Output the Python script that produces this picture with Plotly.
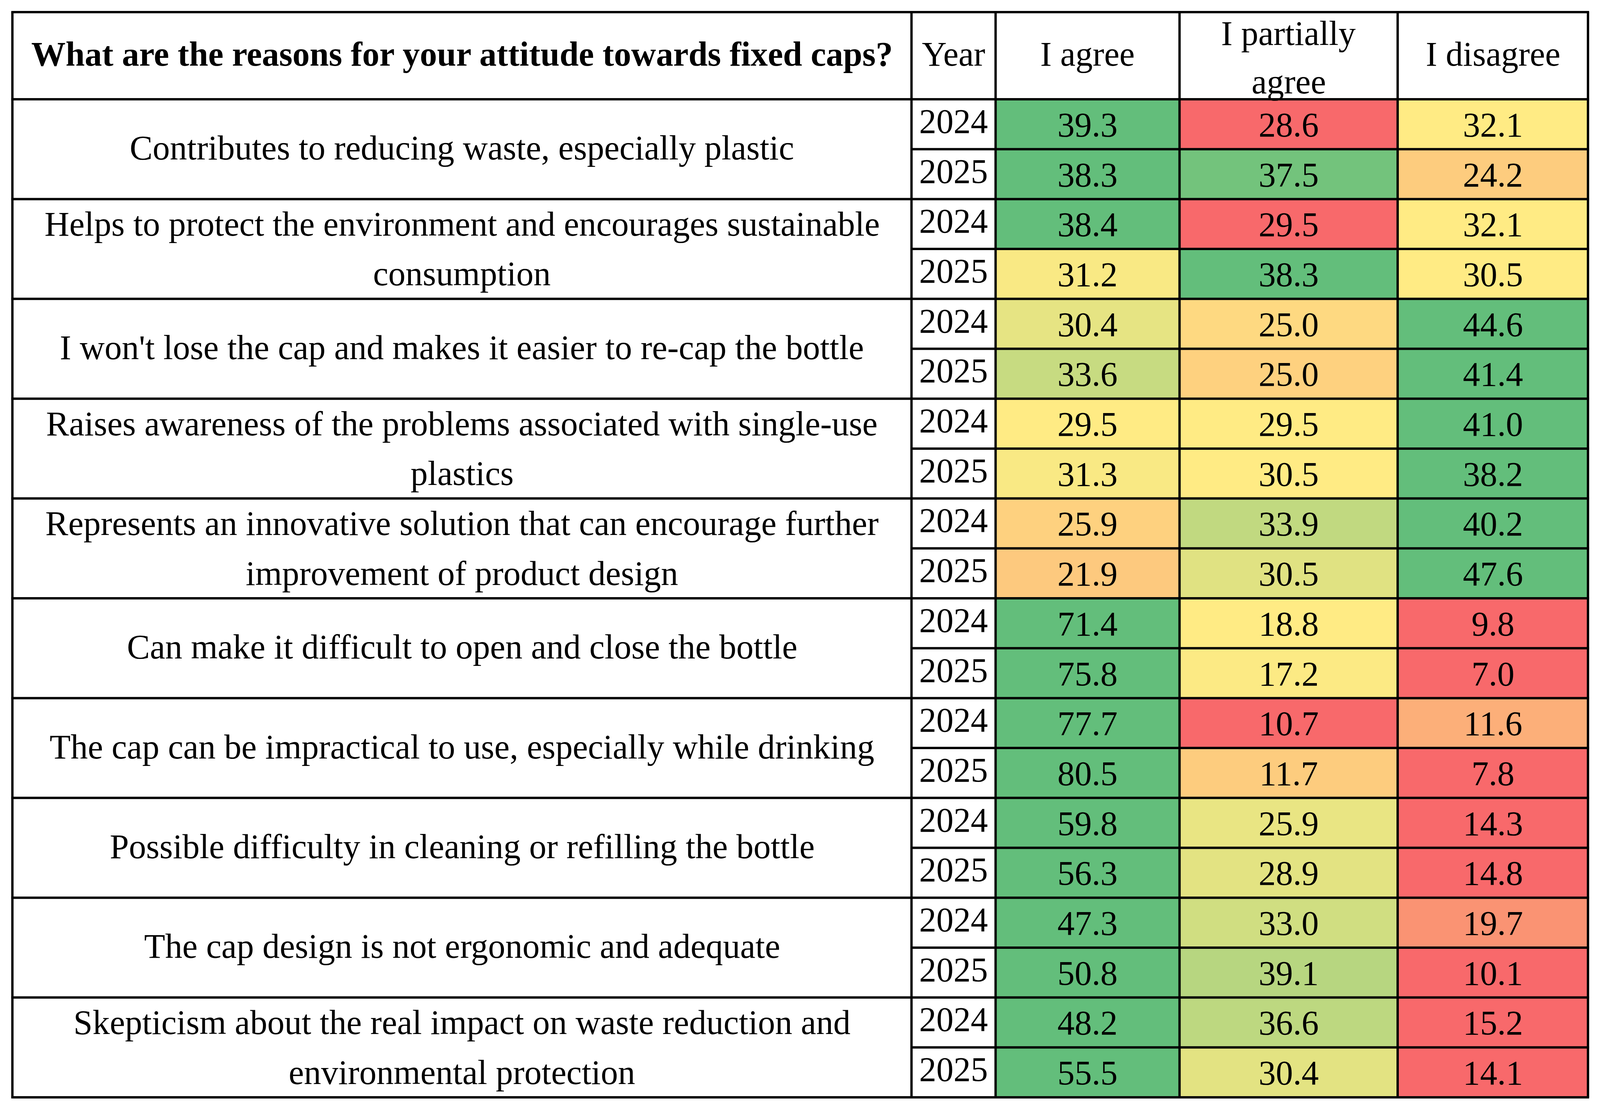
import plotly.graph_objects as go

# table content
header_question = "What are the reasons for your attitude towards fixed caps?"
header_year = "Year"
answer_cols = [["I agree"], ["I partially", "agree"], ["I disagree"]]
years = ["2024", "2025"]

questions = [
    ["Contributes to reducing waste, especially plastic"],
    ["Helps to protect the environment and encourages sustainable", "consumption"],
    ["I won't lose the cap and makes it easier to re-cap the bottle"],
    ["Raises awareness of the problems associated with single-use", "plastics"],
    ["Represents an innovative solution that can encourage further", "improvement of product design"],
    ["Can make it difficult to open and close the bottle"],
    ["The cap can be impractical to use, especially while drinking"],
    ["Possible difficulty in cleaning or refilling the bottle"],
    ["The cap design is not ergonomic and adequate"],
    ["Skepticism about the real impact on waste reduction and", "environmental protection"],
]

# one value per row: question1-2024, question1-2025, question2-2024, ...
agree = [39.3, 38.3, 38.4, 31.2, 30.4, 33.6, 29.5, 31.3, 25.9, 21.9,
         71.4, 75.8, 77.7, 80.5, 59.8, 56.3, 47.3, 50.8, 48.2, 55.5]
partial = [28.6, 37.5, 29.5, 38.3, 25.0, 25.0, 29.5, 30.5, 33.9, 30.5,
           18.8, 17.2, 10.7, 11.7, 25.9, 28.9, 33.0, 39.1, 36.6, 30.4]
disagree = [32.1, 24.2, 32.1, 30.5, 44.6, 41.4, 41.0, 38.2, 40.2, 47.6,
            9.8, 7.0, 11.6, 7.8, 14.3, 14.8, 19.7, 10.1, 15.2, 14.1]

# conditional-format position of each cell on the red-yellow-green scale (0 red, 0.5 yellow, 1 green)
shade_agree = [1, 1, 1, 0.52, 0.58, 0.68, 0.5, 0.52, 0.40, 0.37,
               1, 1, 1, 1, 1, 1, 1, 1, 1, 1]
shade_partial = [0, 0.95, 0, 1, 0.43, 0.40, 0.5, 0.5, 0.70, 0.60,
                 0.5, 0.51, 0, 0.38, 0.57, 0.59, 0.65, 0.73, 0.71, 0.59]
shade_disagree = [0.5, 0.38, 0.5, 0.5, 1, 1, 1, 1, 1, 1,
                  0, 0, 0.27, 0, 0, 0, 0.16, 0, 0, 0]

# geometry, in pixels of the 4262x2843 picture (axes span the whole page)
W, H = 4262, 2843
COL_X = [33, 2428, 2652, 3142, 3723, 4230]
TOP = 31
HEAD_BOTTOM = 254
ROW_H = 127.7
FONT = "Liberation Serif"
FS = 88
LW = 6

n_rows = len(agree)
row_y = [HEAD_BOTTOM + i * ROW_H for i in range(n_rows + 1)]
bottom = row_y[-1]

z = [[shade_agree[i], shade_partial[i], shade_disagree[i]] for i in range(n_rows)]
txt = [["%.1f" % agree[i], "%.1f" % partial[i], "%.1f" % disagree[i]] for i in range(n_rows)]

fig = go.Figure()
fig.add_trace(go.Heatmap(
    x=COL_X[2:], y=row_y, z=z, text=txt,
    texttemplate="%{text}",
    textfont=dict(family=FONT, size=FS, color="black"),
    colorscale=[[0, "#F8696B"], [0.5, "#FFEB84"], [1, "#63BE7B"]],
    zmin=0, zmax=1, showscale=False, hoverinfo="skip",
))

# year column
year_y = [(row_y[i] + row_y[i + 1]) / 2 for i in range(n_rows)]
fig.add_trace(go.Scatter(
    x=[(COL_X[1] + COL_X[2]) / 2] * n_rows, y=year_y,
    text=[years[i % 2] for i in range(n_rows)],
    mode="text", textposition="middle center",
    textfont=dict(family=FONT, size=FS, color="black"),
    hoverinfo="skip", showlegend=False,
))

annotations = []
# header
head_mid = 138
annotations.append(dict(x=(COL_X[0] + COL_X[1]) / 2, y=head_mid, text="<b>" + header_question + "</b>"))
annotations.append(dict(x=(COL_X[1] + COL_X[2]) / 2, y=head_mid, text=header_year))
for j, lines in enumerate(answer_cols):
    xc = (COL_X[j + 2] + COL_X[j + 3]) / 2
    if len(lines) == 1:
        annotations.append(dict(x=xc, y=head_mid, text=lines[0]))
    else:
        annotations.append(dict(x=xc, y=85, text=lines[0]))
        annotations.append(dict(x=xc, y=209, text=lines[1]))

# question texts (merged over two rows)
for k, lines in enumerate(questions):
    if len(lines) == 1:
        annotations.append(dict(x=(COL_X[0] + COL_X[1]) / 2, y=row_y[2 * k + 1] - 3, text=lines[0]))
    else:
        for m, line in enumerate(lines):
            annotations.append(dict(x=(COL_X[0] + COL_X[1]) / 2, y=year_y[2 * k + m], text=line))

for a in annotations:
    a.update(xref="x", yref="y", showarrow=False, xanchor="center", yanchor="middle",
             font=dict(family=FONT, size=FS, color="black"))

# grid lines
shapes = []
line = dict(color="black", width=LW)
for x in COL_X:
    shapes.append(dict(type="line", x0=x, x1=x, y0=TOP, y1=bottom, line=line, layer="above"))
shapes.append(dict(type="line", x0=COL_X[0] - LW / 2, x1=COL_X[-1] + LW / 2, y0=TOP, y1=TOP, line=line, layer="above"))
for i, y in enumerate(row_y):
    x0 = COL_X[0] - LW / 2 if i % 2 == 0 else COL_X[1]
    shapes.append(dict(type="line", x0=x0, x1=COL_X[-1] + LW / 2, y0=y, y1=y, line=line, layer="above"))

fig.update_layout(
    autosize=True,
    margin=dict(l=0, r=0, t=0, b=0, pad=0),
    paper_bgcolor="white", plot_bgcolor="white",
    xaxis=dict(range=[0, W], visible=False, fixedrange=True),
    yaxis=dict(range=[H, 0], visible=False, fixedrange=True),
    annotations=annotations, shapes=shapes,
    showlegend=False,
)

# let the figure fill the browser window exactly
fig.write_html("out.html",
               default_width="100vw",
               default_height="100vh; position:fixed; left:0; top:0",
               config={"displayModeBar": False})
